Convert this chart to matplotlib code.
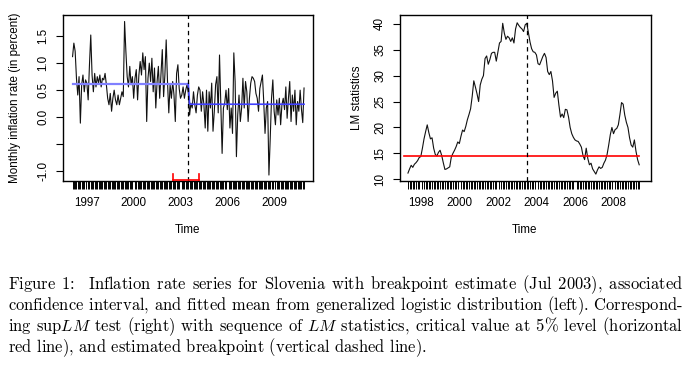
import matplotlib
matplotlib.use('Agg')
import matplotlib.pyplot as plt
import numpy as np

plt.rcParams['font.family'] = ['Liberation Sans', 'DejaVu Sans']
plt.rcParams['mathtext.fontset'] = 'cm'

# ---------------- data ----------------
infl_start = (1996, 2)          # first month of inflation series
infl_pre = [
    1.12, 1.37, 1.22, 0.72, 0.41, 0.75, -0.11, 0.60, 0.78, 0.47,
    0.69, 0.63, 0.32, 0.97, 1.52, 0.78, 0.47, 0.81, 0.56, 0.75,
    0.63, 0.78, 0.56, 0.72, 0.69, 0.81, 0.60, 0.35, 0.23, 0.44,
    0.11, 0.35, 0.50, 0.32, 0.23, 0.41, 0.23, 0.35, 0.47, 0.38,
    1.77, 1.22, 0.75, 0.56, 0.94, 0.60, 0.75, 0.35, 0.72, 0.88,
    0.32, 0.78, 1.03, 0.78, 1.19, 0.88, 1.12, -0.08, 0.72, 1.00,
    0.66, 1.09, 0.47, 0.91, 0.17, 0.66, 0.94, 0.35, 0.81, 1.25,
    0.38, 0.78, 1.43, 0.66, 0.08, 0.60, 0.35, 0.66, 0.41, -0.08,
    0.81, 0.97, 0.53, 0.35, 0.41, 0.56, 0.35, 0.50, 0.60, 0.45]
infl_post = [
    0.04, 0.26, 0.17, 0.47, 0.23, 0.08, 0.41, 0.56, 0.50, 0.11,
    0.47, 0.23, -0.20, 0.50, -0.26, 0.47, 0.17, 0.63, -0.26, 0.11,
    0.60, 0.75, 0.08, 1.15, 0.23, -0.67, 0.17, 0.26, 0.50, 0.14,
    0.53, -0.20, 0.17, -0.30, 1.19, 0.66, -0.73, 0.04, 0.41, -0.08,
    0.17, 0.72, 0.17, 0.66, 0.47, -0.08, 0.35, 0.63, 0.75, 0.72,
    0.66, 0.44, 0.35, 0.11, 0.53, 0.66, 0.78, 0.29, -0.30, 0.17,
    0.29, -1.07, -0.39, 0.35, 0.69, 0.11, -0.14, 0.32, 0.04, 0.35,
    -0.14, 0.23, 0.35, 0.14, 0.56, -0.02, 0.35, 0.66, -0.08, 0.41,
    0.11, 0.50, -0.14, 0.29, 0.11, 0.50, 0.15, -0.10, 0.54]
fit_mean_pre = 0.62
fit_mean_post = 0.24
break_date = 2003.5             # Jul 2003
ci_bounds = (2002.5, 2004.167)

lm_start = (1997, 5)
lm_values = [
    11.2, 12.0, 12.7, 12.3, 12.9, 13.2, 13.6, 14.2, 14.4, 16.0,
    17.8, 19.2, 20.5, 19.0, 17.8, 18.0, 16.0, 14.8, 14.5, 15.2,
    15.6, 14.6, 13.2, 11.9, 12.0, 12.2, 12.4, 14.3, 15.0, 15.6,
    16.3, 17.2, 16.9, 18.3, 19.5, 19.2, 20.2, 21.5, 22.5, 23.6,
    26.0, 29.0, 27.8, 26.5, 25.0, 28.2, 29.3, 30.0, 33.3, 33.8,
    32.2, 33.1, 34.3, 34.5, 34.5, 32.8, 34.6, 36.3, 36.6, 40.1,
    38.2, 37.0, 37.6, 37.3, 36.6, 37.3, 36.3, 39.0, 40.2, 39.7,
    39.3, 39.0, 38.5, 39.8, 40.1, 38.3, 36.5, 35.2, 34.6, 34.5,
    34.0, 32.3, 32.1, 32.9, 33.7, 34.3, 33.5, 30.8, 30.2, 30.8,
    29.0, 25.8, 26.6, 27.0, 24.3, 22.0, 22.6, 21.9, 23.5, 23.4,
    22.0, 20.0, 18.8, 18.1, 17.6, 17.4, 17.3, 16.8, 16.2, 14.6,
    13.8, 16.0, 14.0, 12.8, 13.1, 12.0, 11.5, 11.0, 11.8, 12.4,
    12.1, 12.3, 13.1, 13.7, 14.8, 16.6, 18.6, 20.0, 18.8, 19.6,
    19.8, 20.5, 22.5, 24.8, 24.5, 22.4, 21.0, 20.0, 18.0, 16.6,
    16.2, 17.6, 15.4, 13.8, 12.8]
crit_value = 14.4

left_year_labels = [1997, 2000, 2003, 2006, 2009]
left_yticks = [-1.0, -0.5, 0.0, 0.5, 1.0, 1.5]
left_ytick_labels = ['-1.0', '', '0.0', '0.5', '1.0', '1.5']
right_year_labels = [1998, 2000, 2002, 2004, 2006, 2008]
right_yticks = [10, 15, 20, 25, 30, 35, 40]

caption_lines = [
    "Figure 1:  Inflation rate series for Slovenia with breakpoint estimate (Jul 2003), associated",
    "confidence interval, and fitted mean from generalized logistic distribution (left). Correspond-",
    "ing sup$LM$ test (right) with sequence of $LM$ statistics, critical value at 5% level (horizontal",
    "red line), and estimated breakpoint (vertical dashed line).",
]

# ---------------- figure ----------------
W, H = 692, 375
fig = plt.figure(figsize=(W / 100, H / 100), dpi=100)
fig.patch.set_facecolor('white')

ax1 = fig.add_axes([63.3 / W, 1 - 181 / H, 250 / W, 166 / H])
ax2 = fig.add_axes([400 / W, 1 - 181 / H, 250.7 / W, 166 / H])

FS = 8.4

# left panel
infl = np.array(infl_pre + infl_post)
t1 = infl_start[0] + (infl_start[1] - 1) / 12 + np.arange(len(infl)) / 12
n_pre = len(infl_pre)
fitted = np.array([fit_mean_pre] * n_pre + [fit_mean_post] * len(infl_post))

ax1.plot(t1, infl, color='#111111', lw=0.8, zorder=2)
ax1.plot(t1[:n_pre], fitted[:n_pre], color='#8080ff', lw=1.6, zorder=3)
ax1.plot(t1[n_pre - 1:], fitted[n_pre - 1:], color='#4040ff', lw=1.2, zorder=3)
ax1.axvline(break_date, color='black', lw=0.9, ls=(0, (3.5, 3)), zorder=4)

ax1.set_xlim(1995.49, 2011.51)
ax1.set_ylim(-1.18, 1.89)
y_ci = -1.16
cap = 0.11
ax1.plot([ci_bounds[0], ci_bounds[1]], [y_ci, y_ci], color='red', lw=1.2, clip_on=False, zorder=5)
for xb in ci_bounds:
    ax1.plot([xb, xb], [y_ci, y_ci + cap], color='red', lw=1.2, clip_on=False, zorder=5)

# right panel
t2 = lm_start[0] + (lm_start[1] - 1) / 12 + np.arange(len(lm_values)) / 12
ax2.plot(t2, lm_values, color='#111111', lw=0.8, zorder=2)
ax2.plot([t2[0] - 0.2, t2[-1]], [crit_value, crit_value], color='red', lw=1.2, zorder=3)
ax2.axvline(break_date, color='black', lw=0.9, ls=(0, (3.5, 3)), zorder=4)
ax2.set_xlim(1996.92, 2009.93)
ax2.set_ylim(9.67, 41.7)

for ax, tt, labs in [(ax1, t1, left_year_labels), (ax2, t2, right_year_labels)]:
    for s in ax.spines.values():
        s.set_linewidth(1.0)
        s.set_color('black')
    ax.set_xticks(labs)
    ax.set_xticklabels([str(v) for v in labs], fontsize=FS)
    ax.set_xticks(tt, minor=True)
    ax.tick_params(axis='x', which='major', length=0, pad=11.5)
    ax.tick_params(axis='x', which='minor', length=6, width=0.7, direction='out')
    ax.tick_params(axis='y', which='major', length=5, width=0.8, direction='out', pad=5)

ax1.set_yticks(left_yticks)
ax1.set_yticklabels(left_ytick_labels, fontsize=FS, rotation=90, va='center')
ax2.set_yticks(right_yticks)
ax2.set_yticklabels([str(v) for v in right_yticks], fontsize=FS, rotation=90, va='center')

fig.text(15 / W, 1 - 98 / H, 'Monthly inflation rate (in percent)', rotation=90,
         ha='center', va='center', fontsize=FS)
fig.text(357 / W, 1 - 98 / H, 'LM statistics', rotation=90,
         ha='center', va='center', fontsize=FS)
fig.text(188 / W, 1 - 230 / H, 'Time', ha='center', va='center', fontsize=FS)
fig.text(525 / W, 1 - 230 / H, 'Time', ha='center', va='center', fontsize=FS)

# ---------------- caption (justified via mathtext spacing) ----------------
renderer = fig.canvas.get_renderer()
cap_fs = 11.9
x_left, x_right = 8, 683
baselines = [289, 310, 331, 352]


def build(line, h):
    words = line.split(' ')
    return (' $\\hspace{%.5f}$' % h).join(words)


def text_width(s):
    t = fig.text(0, 0, s, fontsize=cap_fs, family='cmr10')
    w = t.get_window_extent(renderer).width
    t.remove()
    return w


for li, (line, yb) in enumerate(zip(caption_lines, baselines)):
    if li < len(caption_lines) - 1:
        w0 = text_width(build(line, 0.0))
        w1 = text_width(build(line, 1.0))
        h = (x_right - x_left - w0) / (w1 - w0) if w1 > w0 else 0.0
    else:
        h = 0.0
    fig.text(x_left / W, 1 - yb / H, build(line, h), fontsize=cap_fs, family='cmr10',
             va='baseline', ha='left')

fig.savefig('out.png', dpi=100, facecolor='white')
